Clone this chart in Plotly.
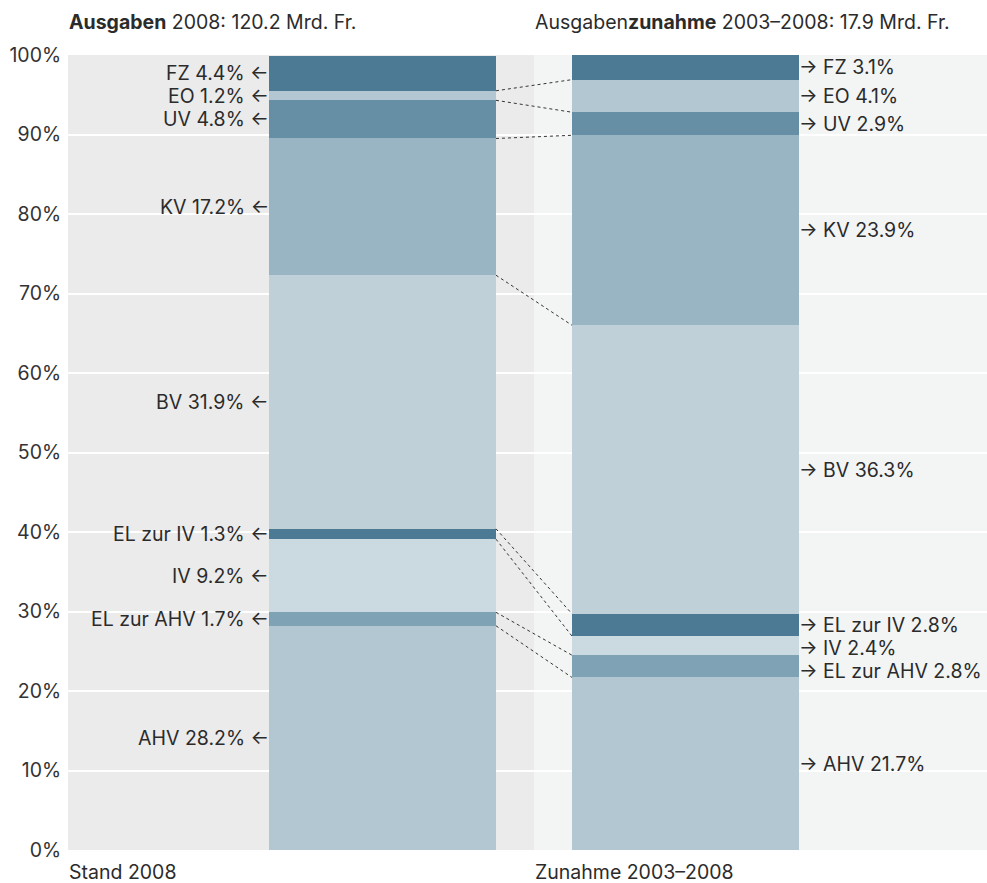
import plotly.graph_objects as go

# Social insurance spending shares, stacked bottom-up
categories = ["AHV", "EL zur AHV", "IV", "EL zur IV", "BV", "KV", "UV", "EO", "FZ"]
share_2008 = [28.2, 1.7, 9.2, 1.3, 31.9, 17.2, 4.8, 1.2, 4.4]
share_increase = [21.7, 2.8, 2.4, 2.8, 36.3, 23.9, 2.9, 4.1, 3.1]
colors = ["#b3c7d2", "#80a2b5", "#cbdae1", "#4c7a95", "#bfd0d8",
          "#99b4c3", "#668fa6", "#b3c7d2", "#4c7a95"]
y_ticks = [0, 10, 20, 30, 40, 50, 60, 70, 80, 90, 100]
y_tick_labels = [f"{v}%" for v in y_ticks]

title_left = "<b>Ausgaben</b> 2008: 120.2 Mrd. Fr."
title_right = "Ausgaben<b>zunahme</b> 2003–2008: 17.9 Mrd. Fr."
axis_left = "Stand 2008"
axis_right = "Zunahme 2003–2008"

FONT = "Inter"
FS = 19.5
TEXT = "#2b2b2b"
BAR_W = 0.749
X_MIN, X_MAX = -1.038, 1.995
SPLIT = 0.5
MIN_LABEL_GAP = 2.9  # in percentage points on the y axis

fig = go.Figure()

for cat, a, b, c in zip(categories, share_2008, share_increase, colors):
    fig.add_trace(go.Bar(
        x=[0, 1], y=[a, b], name=cat, width=BAR_W,
        marker=dict(color=c, line=dict(width=0)),
        hoverinfo="name+y", showlegend=False,
    ))


def cumulative(vals):
    out, s = [], 0.0
    for v in vals:
        out.append((s, s + v))
        s += v
    return out


def spread_labels(centers, gap):
    """Push label positions downward (top to bottom) so they keep a minimum gap."""
    ys = list(centers)
    order = sorted(range(len(ys)), key=lambda i: -ys[i])
    prev = None
    for i in order:
        if prev is not None and ys[i] > prev - gap:
            ys[i] = prev - gap
        prev = ys[i]
    return ys


cum_l = cumulative(share_2008)
cum_r = cumulative(share_increase)
lab_l = spread_labels([(a + b) / 2 for a, b in cum_l], MIN_LABEL_GAP)
lab_r = spread_labels([(a + b) / 2 for a, b in cum_r], MIN_LABEL_GAP)

# dotted connectors between matching segment boundaries
xl = BAR_W / 2
xr = 1 - BAR_W / 2
for i in range(len(categories) - 1):
    fig.add_trace(go.Scatter(
        x=[xl, xr], y=[cum_l[i][1], cum_r[i][1]], mode="lines",
        line=dict(color="#333333", width=1, dash="dot"),
        hoverinfo="skip", showlegend=False,
    ))

label_font = dict(family=FONT, size=FS, color=TEXT)
annotations = []
for cat, a, b, yl, yr in zip(categories, share_2008, share_increase, lab_l, lab_r):
    annotations.append(dict(
        x=-BAR_W / 2, y=yl, xref="x", yref="y",
        text=f"{cat} {a:.1f}% ←", showarrow=False,
        xanchor="right", yanchor="middle", xshift=1, borderpad=0,
        font=label_font,
    ))
    annotations.append(dict(
        x=1 + BAR_W / 2, y=yr, xref="x", yref="y",
        text=f"→ {cat} {b:.1f}%", showarrow=False,
        xanchor="left", yanchor="middle", xshift=-1, borderpad=0,
        font=label_font,
    ))

annotations += [
    dict(x=0, y=1, xref="paper", yref="paper", text=title_left, showarrow=False,
         xanchor="left", yanchor="middle", yshift=33, borderpad=0, font=label_font),
    dict(x=SPLIT, y=1, xref="x", yref="paper", text=title_right, showarrow=False,
         xanchor="left", yanchor="middle", yshift=33, borderpad=0, font=label_font),
    dict(x=0, y=0, xref="paper", yref="paper", text=axis_left, showarrow=False,
         xanchor="left", yanchor="middle", yshift=-22, borderpad=0, font=label_font),
    dict(x=SPLIT, y=0, xref="x", yref="paper", text=axis_right, showarrow=False,
         xanchor="left", yanchor="middle", yshift=-22, borderpad=0, font=label_font),
]

shapes = [
    dict(type="rect", xref="x", yref="y", x0=X_MIN, x1=SPLIT, y0=0, y1=100,
         fillcolor="#ebebeb", line=dict(width=0), layer="below"),
    dict(type="rect", xref="x", yref="y", x0=SPLIT, x1=X_MAX, y0=0, y1=100,
         fillcolor="#f3f5f5", line=dict(width=0), layer="below"),
]

fig.update_layout(
    width=987, height=883,
    margin=dict(l=68, r=0, t=55, b=33),
    paper_bgcolor="white", plot_bgcolor="white",
    barmode="stack", bargap=0,
    shapes=shapes, annotations=annotations,
    xaxis=dict(range=[X_MIN, X_MAX], showticklabels=False, showgrid=False,
               zeroline=False, fixedrange=True),
    yaxis=dict(range=[0, 100], tickvals=y_ticks, ticktext=y_tick_labels,
               showgrid=True, gridcolor="white", gridwidth=1.5, zeroline=False,
               ticks="outside", ticklen=2, tickcolor="rgba(0,0,0,0)",
               tickfont=dict(family=FONT, size=FS, color="#333333"),
               fixedrange=True),
)

fig.write_html("out.html")
